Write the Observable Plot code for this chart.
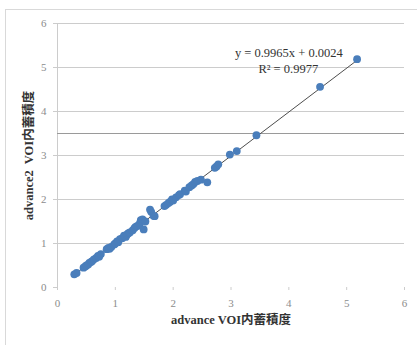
<!DOCTYPE html>
<html>
<head>
<meta charset="utf-8">
<script src="https://cdn.jsdelivr.net/npm/d3@7"></script>
<script src="https://cdn.jsdelivr.net/npm/@observablehq/plot@0.6"></script>
<style>
  html, body { margin: 0; padding: 0; background: #fff; }
  #wrap { position: relative; width: 417px; height: 345px; overflow: hidden; }
  #frame { position: absolute; left: 5px; top: 9px; width: 420px; height: 345px; border: 1px solid #d9d9d9; box-sizing: border-box; pointer-events: none; }
</style>
</head>
<body>
<div id="wrap"><div id="frame"></div></div>
<script>
const xValues = [0.29,0.33,0.45,0.48,0.5,0.53,0.55,0.58,0.6,0.63,0.67,0.7,0.72,0.75,0.85,0.88,0.9,0.93,0.98,1.0,1.03,1.05,1.08,1.12,1.15,1.18,1.2,1.22,1.25,1.3,1.33,1.35,1.38,1.42,1.44,1.47,1.49,1.52,1.6,1.62,1.66,1.68,1.85,1.88,1.92,1.95,1.98,2.0,2.05,2.1,2.12,2.2,2.22,2.28,2.32,2.35,2.38,2.42,2.48,2.59,2.72,2.75,2.78,2.98,3.1,3.44,4.54,5.18];
const yValues = [0.30,0.33,0.45,0.48,0.5,0.52,0.56,0.58,0.6,0.64,0.67,0.72,0.7,0.76,0.87,0.9,0.88,0.92,0.98,1.0,1.05,1.03,1.1,1.12,1.18,1.15,1.2,1.23,1.25,1.3,1.35,1.38,1.4,1.45,1.53,1.55,1.32,1.5,1.77,1.72,1.63,1.62,1.85,1.88,1.92,1.95,2.0,1.98,2.05,2.1,2.12,2.2,2.18,2.28,2.32,2.35,2.4,2.42,2.45,2.39,2.72,2.75,2.8,3.02,3.1,3.46,4.56,5.19];
const trendCoef = [0.9965, 0.0024];   // slope, intercept
const trendRange = [0.29, 5.18];
const rSquared = "0.9977";
const ticks = [0, 1, 2, 3, 4, 5, 6];
const refLine = [3.5];
const xTitle = "advance VOI内蓄積度";
const yTitle = "advance2  VOI内蓄積度";
const eqText = `y = ${trendCoef[0]}x + ${trendCoef[1].toFixed(4)}`;
const r2Text = `R² = ${rSquared}`;

const points = xValues.map((x, i) => ({x, y: yValues[i]}));
const trend = trendRange.map(x => ({x, y: trendCoef[0] * x + trendCoef[1]}));

const serif = "'Liberation Serif', 'Noto Sans CJK JP', serif";

const chart = Plot.plot({
  width: 417,
  height: 345,
  marginLeft: 57,
  marginRight: 13,
  marginTop: 23,
  marginBottom: 58,
  style: {fontFamily: serif, background: "transparent", overflow: "visible"},
  x: {domain: [0, 6]},
  y: {domain: [0, 6]},
  marks: [
    Plot.ruleY(ticks.slice(1), {y: d => d, stroke: "#cccccc", strokeWidth: 1}),
    Plot.ruleX([0], {x: d => d, stroke: "#cccccc", strokeWidth: 1}),
    Plot.ruleY(refLine, {y: d => d, stroke: "#9a9a9a", strokeWidth: 1}),
    Plot.axisY({ticks, tickSize: 4, tickPadding: 7, tickFormat: d3.format("d"), stroke: "#cccccc", fill: "#8c8c8c", fontSize: 11, label: null}),
    Plot.axisX({ticks, tickSize: 3, tickPadding: 9, tickFormat: d3.format("d"), stroke: "#cccccc", fill: "#8c8c8c", fontSize: 11, label: null}),
    Plot.line(trend, {x: "x", y: "y", stroke: "#4d4d4d", strokeWidth: 1}),
    Plot.dot(points, {x: "x", y: "y", r: 3.9, fill: "#4a7ebb", stroke: "none"}),
    Plot.text([eqText], {x: 4.0, y: 5.32, text: d => d, fontSize: 12.5, fill: "#333333", fontFamily: serif}),
    Plot.text([r2Text], {x: 3.99, y: 4.96, text: d => d, fontSize: 12.5, fill: "#333333", fontFamily: serif}),
    Plot.text([xTitle], {frameAnchor: "bottom", dy: 36, text: d => d, fontSize: 12.5, fontWeight: "bold", fill: "#333333", fontFamily: serif}),
    Plot.text([yTitle], {frameAnchor: "left", textAnchor: "middle", dx: -29, rotate: -90, text: d => d, fontSize: 12.5, fontWeight: "bold", fill: "#333333", fontFamily: serif})
  ]
});
document.getElementById("wrap").prepend(chart);
</script>
</body>
</html>
